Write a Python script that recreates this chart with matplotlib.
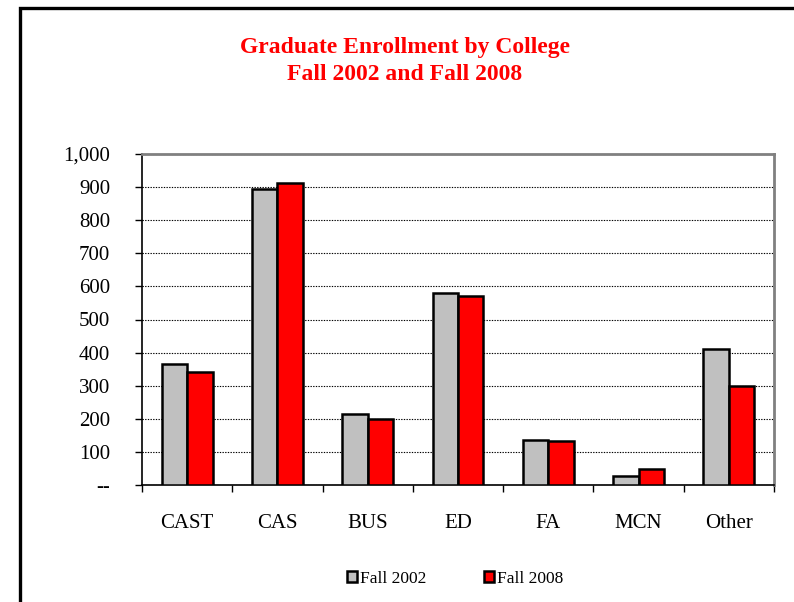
import matplotlib
matplotlib.use('Agg')
import matplotlib.pyplot as plt
from matplotlib.patches import Patch, Rectangle
from matplotlib.ticker import FuncFormatter, FixedLocator
import numpy as np

plt.rcParams['font.family'] = ['Liberation Serif', 'DejaVu Serif']

colleges = ['CAST', 'CAS', 'BUS', 'ED', 'FA', 'MCN', 'Other']
fall_2002 = [365, 893, 214, 581, 136, 28, 411]
fall_2008 = [342, 913, 199, 572, 133, 49, 298]
series_labels = ['Fall 2002', 'Fall 2008']
series_colors = ['#c0c0c0', '#ff0000']
yticks = [0, 100, 200, 300, 400, 500, 600, 700, 800, 900, 1000]

fig = plt.figure(figsize=(7.94, 6.02), dpi=100)
ax = fig.add_axes([142 / 794, 1 - 485 / 602, 632 / 794, 331 / 602])

# outer chart border (runs off right and bottom of the picture)
fig.patches.append(Rectangle((20 / 794, -0.2), 1.2, 0.2 + (1 - 8 / 602),
                             transform=fig.transFigure, fill=False,
                             edgecolor='black', linewidth=2.4, zorder=10))

x = np.arange(len(colleges))
w = 0.282
ax.bar(x - w / 2, fall_2002, width=w, color=series_colors[0],
       edgecolor='black', linewidth=1.8, zorder=3)
ax.bar(x + w / 2, fall_2008, width=w, color=series_colors[1],
       edgecolor='black', linewidth=1.8, zorder=3)

ax.set_xlim(-0.5, len(colleges) - 0.5)
ax.set_ylim(0, 1000)

ax.yaxis.set_major_locator(FixedLocator(yticks))
ax.yaxis.set_major_formatter(FuncFormatter(lambda v, p: '--' if v == 0 else f'{int(v):,}'))
ax.grid(axis='y', color='black', linestyle=(0, (1.2, 1.2)), linewidth=0.8, zorder=1)

ax.set_xticks(np.arange(len(colleges) + 1) - 0.5)
ax.set_xticklabels([])
ax.set_xticks(x, minor=True)
ax.set_xticklabels(colleges, minor=True)
ax.tick_params(axis='x', which='minor', length=0, pad=21, labelsize=15)
ax.tick_params(axis='x', which='major', length=5, width=1, direction='out')
ax.tick_params(axis='y', length=5, width=1, direction='out', pad=18, labelsize=15)

for side in ['top', 'right']:
    ax.spines[side].set_color('#808080')
    ax.spines[side].set_linewidth(2)
for side in ['left', 'bottom']:
    ax.spines[side].set_color('black')
    ax.spines[side].set_linewidth(1.2)

fig.text(405 / 794, 1 - 61 / 602, 'Graduate Enrollment by College\nFall 2002 and Fall 2008',
         ha='center', va='center', color='red', fontsize=17, fontweight='bold',
         linespacing=1.38)

handles = [Patch(facecolor=c, edgecolor='black', linewidth=1.8) for c in series_colors]
fig.legend(handles, series_labels, loc='center', bbox_to_anchor=(455 / 794, 1 - 579 / 602),
           ncol=2, frameon=False, fontsize=12.5, handlelength=0.6, handleheight=0.6,
           handletextpad=0.15, columnspacing=3.3)

fig.savefig('out.png', dpi=100)
